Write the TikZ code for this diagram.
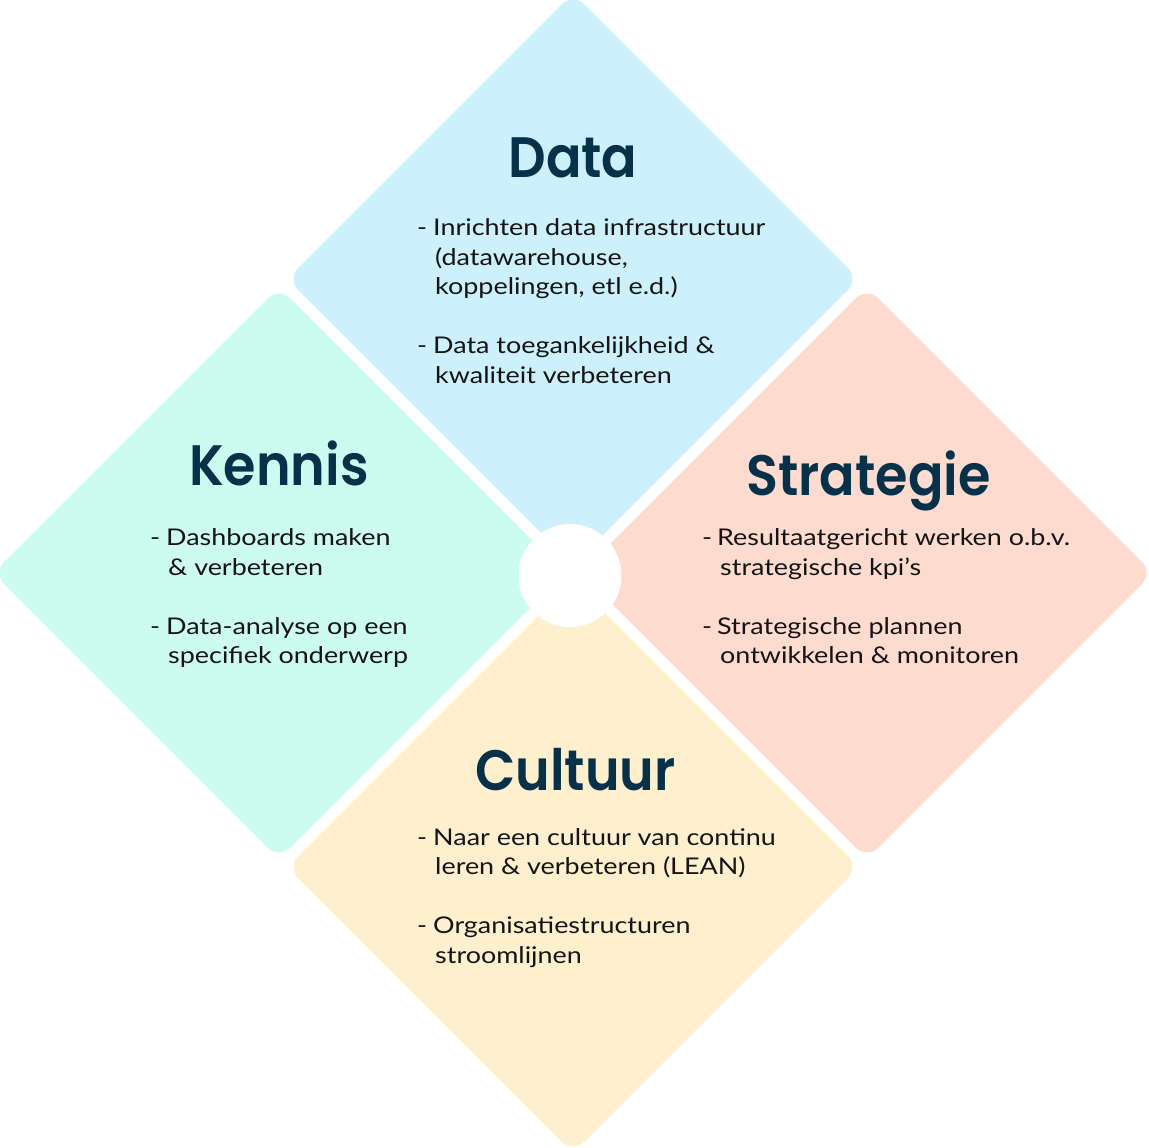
\documentclass[tikz,border=0pt]{standalone}
\usepackage{fontspec}
\setmainfont{Lato}[FakeStretch=1.17]
\newfontfamily\titlefont{Poppins SemiBold}[FakeStretch=0.92]
\definecolor{datac}{RGB}{204,241,252}
\definecolor{kenc}{RGB}{204,251,240}
\definecolor{strc}{RGB}{253,219,206}
\definecolor{culc}{RGB}{254,240,205}
\definecolor{titlec}{RGB}{5,49,74}
\definecolor{bodyc}{RGB}{20,20,20}
\begin{document}
\begin{tikzpicture}[x=1pt,y=-1pt,
  diam/.style={rounded corners=16pt},
  ttl/.style={anchor=base, inner sep=0pt, text=titlec, font=\titlefont\fontsize{57}{60}\selectfont},
  txt/.style={anchor=base west, inner sep=0pt, text=bodyc, font=\fontsize{23}{28}\selectfont}]
\useasboundingbox (0,0) rectangle (1148,1148);
% diamonds
\path[diam, fill=datac] (573,-7) -- (859,279) -- (573,565) -- (287,279) -- cycle;
\path[diam, fill=kenc] (279,287) -- (565,573) -- (279,859) -- (-7,573) -- cycle;
\path[diam, fill=strc] (867,287) -- (1153,573) -- (867,859) -- (581,573) -- cycle;
\path[diam, fill=culc] (573,581) -- (859,867) -- (573,1153) -- (287,867) -- cycle;
\fill[white] (570,575.5) circle[radius=51.5pt];
% Data
\node[ttl] (tData) at (573,177) {Data};
\node[txt] (d1) at (417,235) {-};
\node[txt] (d1t) at (433,235) {Inrichten data infrastructuur};
\node[txt] (d2) at (435,265) {(datawarehouse,};
\node[txt] (d3) at (435,294) {koppelingen, etl e.d.)};
\node[txt] (d4) at (417,353) {-};
\node[txt] (d4t) at (433,353) {Data toegankelijkheid \&};
\node[txt] (d5) at (435,383) {kwaliteit verbeteren};
% Kennis
\node[ttl] (tKen) at (279,485) {Kennis};
\node[txt] (k1) at (150,545) {-};
\node[txt] (k1t) at (166,545) {Dashboards maken};
\node[txt] (k2) at (168,575) {\& verbeteren};
\node[txt] (k3) at (150,634) {-};
\node[txt] (k3t) at (166,634) {Data-analyse op een};
\node[txt] (k4) at (168,663) {specifiek onderwerp};
% Strategie
\node[ttl] (tStr) at (868.5,495) {Strategie};
\node[txt] (s1) at (702,545) {-};
\node[txt] (s1t) at (717,545) {Resultaatgericht werken o.b.v.};
\node[txt] (s2) at (720,575) {strategische kpi’s};
\node[txt] (s3) at (702,634) {-};
\node[txt] (s3t) at (717,634) {Strategische plannen};
\node[txt] (s4) at (720,663) {ontwikkelen \& monitoren};
% Cultuur
\node[ttl] (tCul) at (575.5,790) {Cultuur};
\node[txt] (c1) at (417,845) {-};
\node[txt] (c1t) at (433,845) {Naar een cultuur van continu};
\node[txt] (c2) at (435,874) {leren \& verbeteren (LEAN)};
\node[txt] (c3) at (417,933) {-};
\node[txt] (c3t) at (433,933) {Organisatiestructuren};
\node[txt] (c4) at (435,963) {stroomlijnen};
\end{tikzpicture}
\end{document}
